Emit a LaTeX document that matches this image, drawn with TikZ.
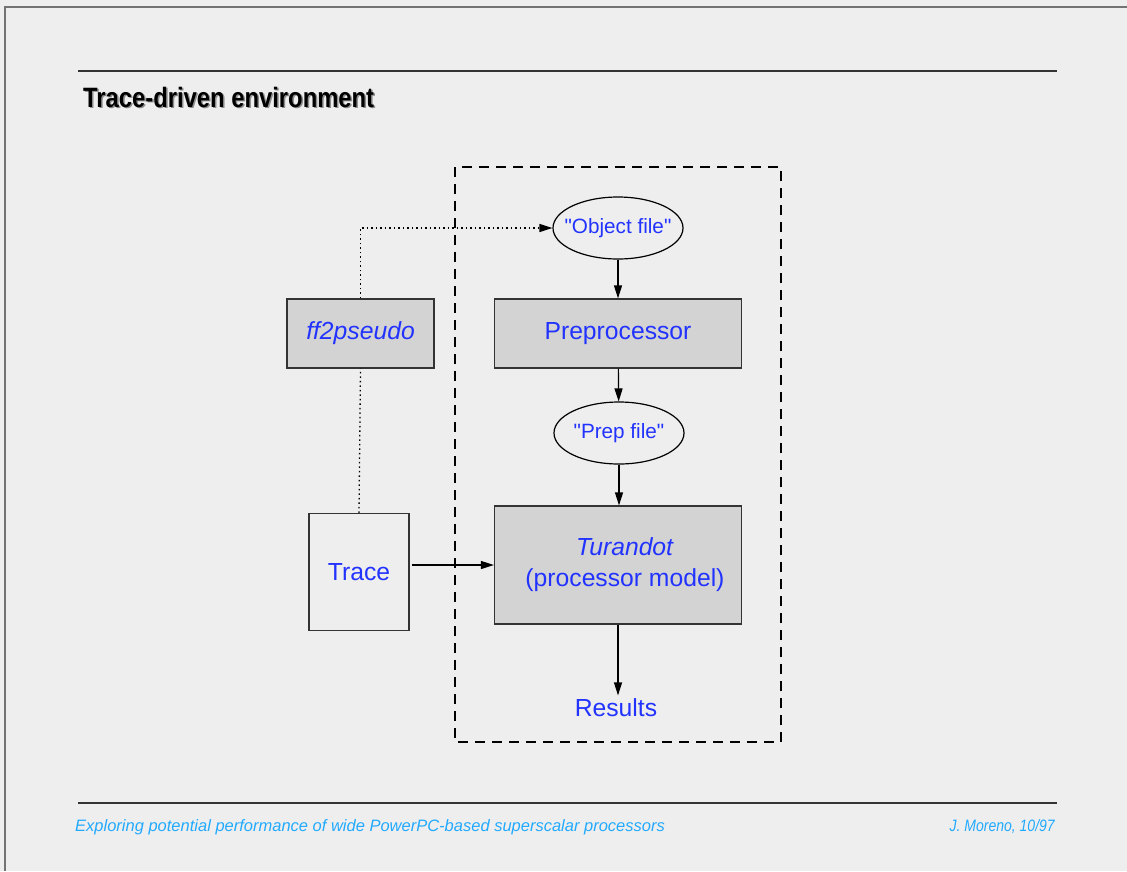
\documentclass[tikz,border=0pt]{standalone}
\usepackage{fontspec}
\setmainfont{Liberation Sans}
\newfontfamily\plainq{Liberation Sans}
\usetikzlibrary{arrows.meta,shapes.geometric}

\definecolor{pagebg}{HTML}{EEEEEE}
\definecolor{boxfill}{HTML}{D3D3D3}
\definecolor{labelblue}{HTML}{2233FF}
\definecolor{footblue}{HTML}{22AAFF}

\newcommand{\fname}[1]{\makebox[0pt]{{\plainq"}#1{\plainq"}}}

\begin{document}
\begin{tikzpicture}[x=1pt,y=-1pt,
  every node/.style={text=labelblue,font=\fontsize{24.7}{31}\selectfont},
  procbox/.style={draw=black!80,line width=1.2pt,fill=boxfill,inner sep=0pt},
  filebubble/.style={ellipse,draw=black,line width=1.2pt,fill=pagebg,inner sep=0pt,
                     minimum width=130pt,minimum height=62pt,font=\fontsize{20.7}{25}\selectfont},
  arr/.style={-{Triangle[length=13pt,width=8pt]},line width=1.2pt},
  rulecol/.style={line width=1.3pt,black!80}]

% page
\fill[pagebg] (0,0) rectangle (1127,871);
\useasboundingbox (0,0) rectangle (1127,871);
\draw[black!55,line width=1.3pt] (5,871) -- (5,7) -- (1127,7);
\draw[rulecol] (78,71) -- (1057,71);
\draw[rulecol] (78,803) -- (1057,803);

% title
\node[anchor=base west,text=black!45,inner sep=0pt] at (84.5,108.5)
  {\fontsize{28}{32}\selectfont\bfseries\scalebox{0.85}[1]{Trace-driven environment}};
\node[anchor=base west,text=black,inner sep=0pt] (title) at (83,107)
  {\fontsize{28}{32}\selectfont\bfseries\scalebox{0.85}[1]{Trace-driven environment}};

% simulator frame
\draw[line width=1.2pt,dash pattern=on 10pt off 7pt] (455,167) rectangle (781,742);

\node[filebubble] (obj) at (618,228) {\fname{Object file}};
\node[procbox,minimum width=247pt,minimum height=69pt] (prep) at (618,333.5) {Preprocessor};
\node[filebubble] (prepf) at (619,433) {\fname{Prep file}};
\node[procbox,minimum width=247pt,minimum height=118pt,align=center] (turandot) at (618,565)
  {\hspace*{14pt}\textit{Turandot}\\\hspace*{14pt}(processor model)};
\node (res) at (616,708) {Results};

\node[procbox,minimum width=147pt,minimum height=69pt] (ff2) at (360.5,333.5) {\textit{ff2pseudo}};
\node[procbox,fill=pagebg,minimum width=100pt,minimum height=117pt] (trace) at (359,572) {Trace};

% connectors
\draw[arr] (obj) -- (prep);
\draw[arr] (prep) -- (prepf);
\draw[arr] (prepf.south) -- (turandot.north -| prepf.south);
\draw[arr] (turandot.south) -- (turandot.south |- res.north);
\draw[arr] ([xshift=2pt]trace.east |- turandot.west) -- (turandot.west);

\coordinate (bend) at (ff2.north |- obj.west);
\draw[line width=1.3pt,dash pattern=on 1.5pt off 3pt] (trace.north) -- (ff2.south);
\draw[arr,line width=1.3pt,dash pattern=on 1.5pt off 3pt] (ff2.north) -- (bend) -- (obj.west);

% footer
\node[anchor=base west,text=footblue,inner sep=0pt] (foot) at (75,831)
  {\fontsize{16.5}{20}\selectfont\itshape Exploring potential performance of wide PowerPC-based superscalar processors};
\node[anchor=base east,text=footblue,inner sep=0pt] (author) at (1055,831)
  {\fontsize{16.5}{20}\selectfont\itshape\scalebox{0.85}[1]{J. Moreno, 10/97}};
\end{tikzpicture}
\end{document}
